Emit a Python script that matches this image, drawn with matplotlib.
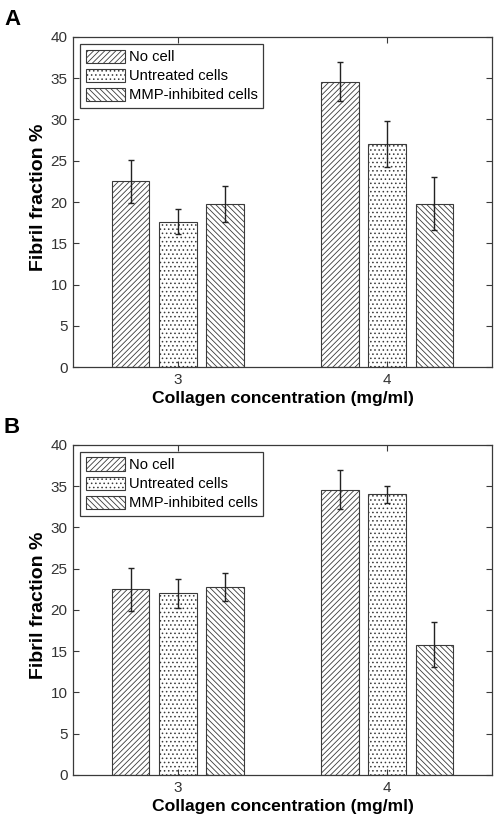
import matplotlib.pyplot as plt
import numpy as np

plt.rcParams["font.family"] = ["Liberation Sans", "DejaVu Sans"]
plt.rcParams["hatch.linewidth"] = 0.6

concentrations = [3, 4]
series = ["No cell", "Untreated cells", "MMP-inhibited cells"]
hatches = ["//////", "....", "\\\\\\\\\\\\"]

# panel A
a_means = [[22.5, 34.6], [17.6, 27.0], [19.8, 19.8]]
a_errs = [[2.6, 2.4], [1.5, 2.8], [2.2, 3.2]]
# panel B
b_means = [[22.5, 34.6], [22.0, 34.0], [22.8, 15.8]]
b_errs = [[2.6, 2.4], [1.8, 1.0], [1.7, 2.7]]

gray = "#3a3a3a"


def draw_panel(ax, means, errs):
    width = 0.18
    step = 0.225
    x = np.array(concentrations, dtype=float)
    for i, name in enumerate(series):
        ax.bar(x + (i - 1) * step, means[i], width, yerr=errs[i],
               color="white", edgecolor=gray, linewidth=0.8,
               hatch=hatches[i], label=name,
               error_kw=dict(ecolor="#222222", elinewidth=1.0,
                             capsize=2.4, capthick=1.0))
    ax.set_xlim(2.5, 4.5)
    ax.set_ylim(0, 40)
    ax.set_xticks(concentrations)
    ax.set_yticks(range(0, 41, 5))
    ax.tick_params(direction="in", top=True, right=True, labelsize=11,
                   length=4, width=0.8, color=gray, labelcolor="#333333",
                   pad=4)
    for s in ax.spines.values():
        s.set_linewidth(0.9)
        s.set_color(gray)
    ax.set_ylabel("Fibril fraction %", fontsize=14, fontweight="bold")
    ax.yaxis.set_label_coords(-0.062, 0.515)
    ax.set_xlabel("Collagen concentration (mg/ml)", fontsize=12.6,
                  fontweight="bold")
    ax.xaxis.set_label_coords(0.5, -0.072)
    leg = ax.legend(loc="upper left", fontsize=10.6, fancybox=False,
                    edgecolor=gray, framealpha=1, handlelength=2.65,
                    handleheight=1.0, handletextpad=0.27, labelspacing=0.3,
                    borderpad=0.4, borderaxespad=0.45)
    leg.get_frame().set_linewidth(0.9)


fig = plt.figure(figsize=(4.98, 8.22), dpi=100)
ax_a = fig.add_axes([0.1466, 0.5535, 0.8414, 0.4015])
ax_b = fig.add_axes([0.1466, 0.0572, 0.8414, 0.4015])
draw_panel(ax_a, a_means, a_errs)
draw_panel(ax_b, b_means, b_errs)
fig.text(0.008, 0.9696, "A", fontsize=16, fontweight="bold", va="baseline")
fig.text(0.008, 0.4732, "B", fontsize=16, fontweight="bold", va="baseline")
fig.savefig("out.png", dpi=100)
